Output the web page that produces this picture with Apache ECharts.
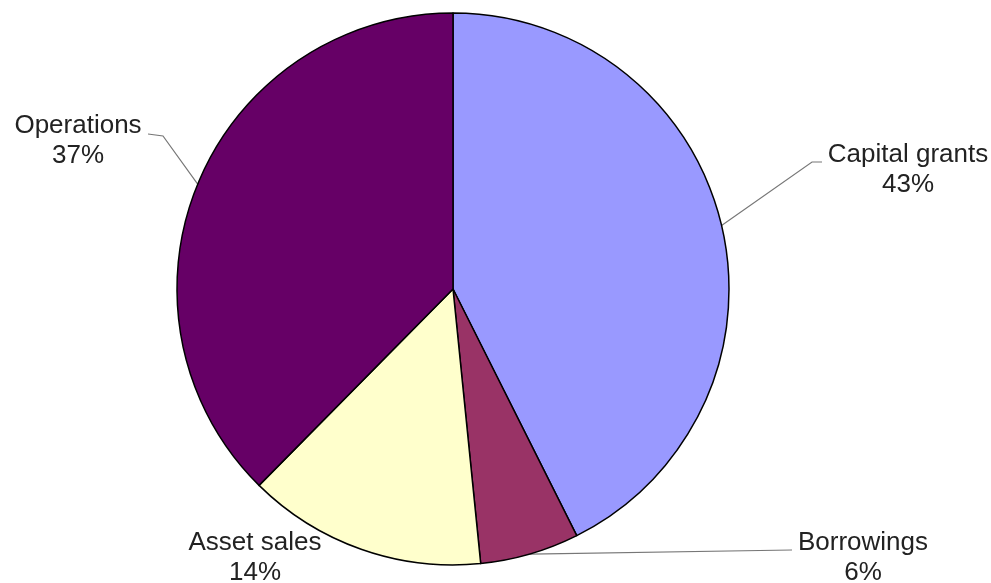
<!DOCTYPE html>
<html>
<head>
<meta charset="utf-8">
<script src="https://cdn.jsdelivr.net/npm/echarts@6/dist/echarts.min.js"></script>
<style>
  html, body { margin: 0; padding: 0; background: #fff; }
  #chart { width: 991px; height: 583px; }
</style>
</head>
<body>
<div id="chart"></div>
<script>
const categories = ['Capital grants', 'Borrowings', 'Asset sales', 'Operations']
// slice sizes as measured off the drawing, and the percentages printed on it
const sliceValues = [42.6, 5.8, 14.0, 37.6]
const labelPercents = ['43%', '6%', '14%', '37%']
const colors = ['#9999ff', '#993366', '#ffffcc', '#660066']

// where each label sits and where its guide line ends
const labelPos = [
  { x: 908, y: 170, end: [822, 162], bend: [812, 162] },
  { x: 863, y: 558, end: [792, 550], bend: null },
  { x: 255, y: 558, end: null, bend: null },
  { x: 78, y: 141, end: [148, 134], bend: [163, 136] }
]

const chart = echarts.init(document.getElementById('chart'))

chart.setOption({
  animation: false,
  series: [{
    type: 'pie',
    center: [453, 289],
    radius: 276,
    startAngle: 90,
    clockwise: true,
    data: categories.map((name, i) => ({
      name: name,
      value: sliceValues[i],
      itemStyle: { color: colors[i] }
    })),
    itemStyle: {
      borderColor: '#000',
      borderWidth: 1.5
    },
    label: {
      show: true,
      formatter: p => p.name + '\n' + labelPercents[p.dataIndex],
      fontFamily: 'Liberation Sans, Arial, sans-serif',
      fontSize: 26,
      lineHeight: 30,
      color: '#222',
      align: 'center'
    },
    labelLine: {
      show: true,
      lineStyle: { color: '#777', width: 1.2 }
    },
    labelLayout: function (params) {
      const p = labelPos[params.dataIndex]
      const start = params.labelLinePoints[0]
      let pts
      if (!p.end) {
        pts = [start, start, start]
      } else if (p.bend) {
        pts = [start, p.bend, p.end]
      } else {
        pts = [start, p.end, p.end]
      }
      return {
        x: p.x,
        y: p.y,
        align: 'center',
        verticalAlign: 'middle',
        labelLinePoints: pts
      }
    }
  }]
})
</script>
</body>
</html>
